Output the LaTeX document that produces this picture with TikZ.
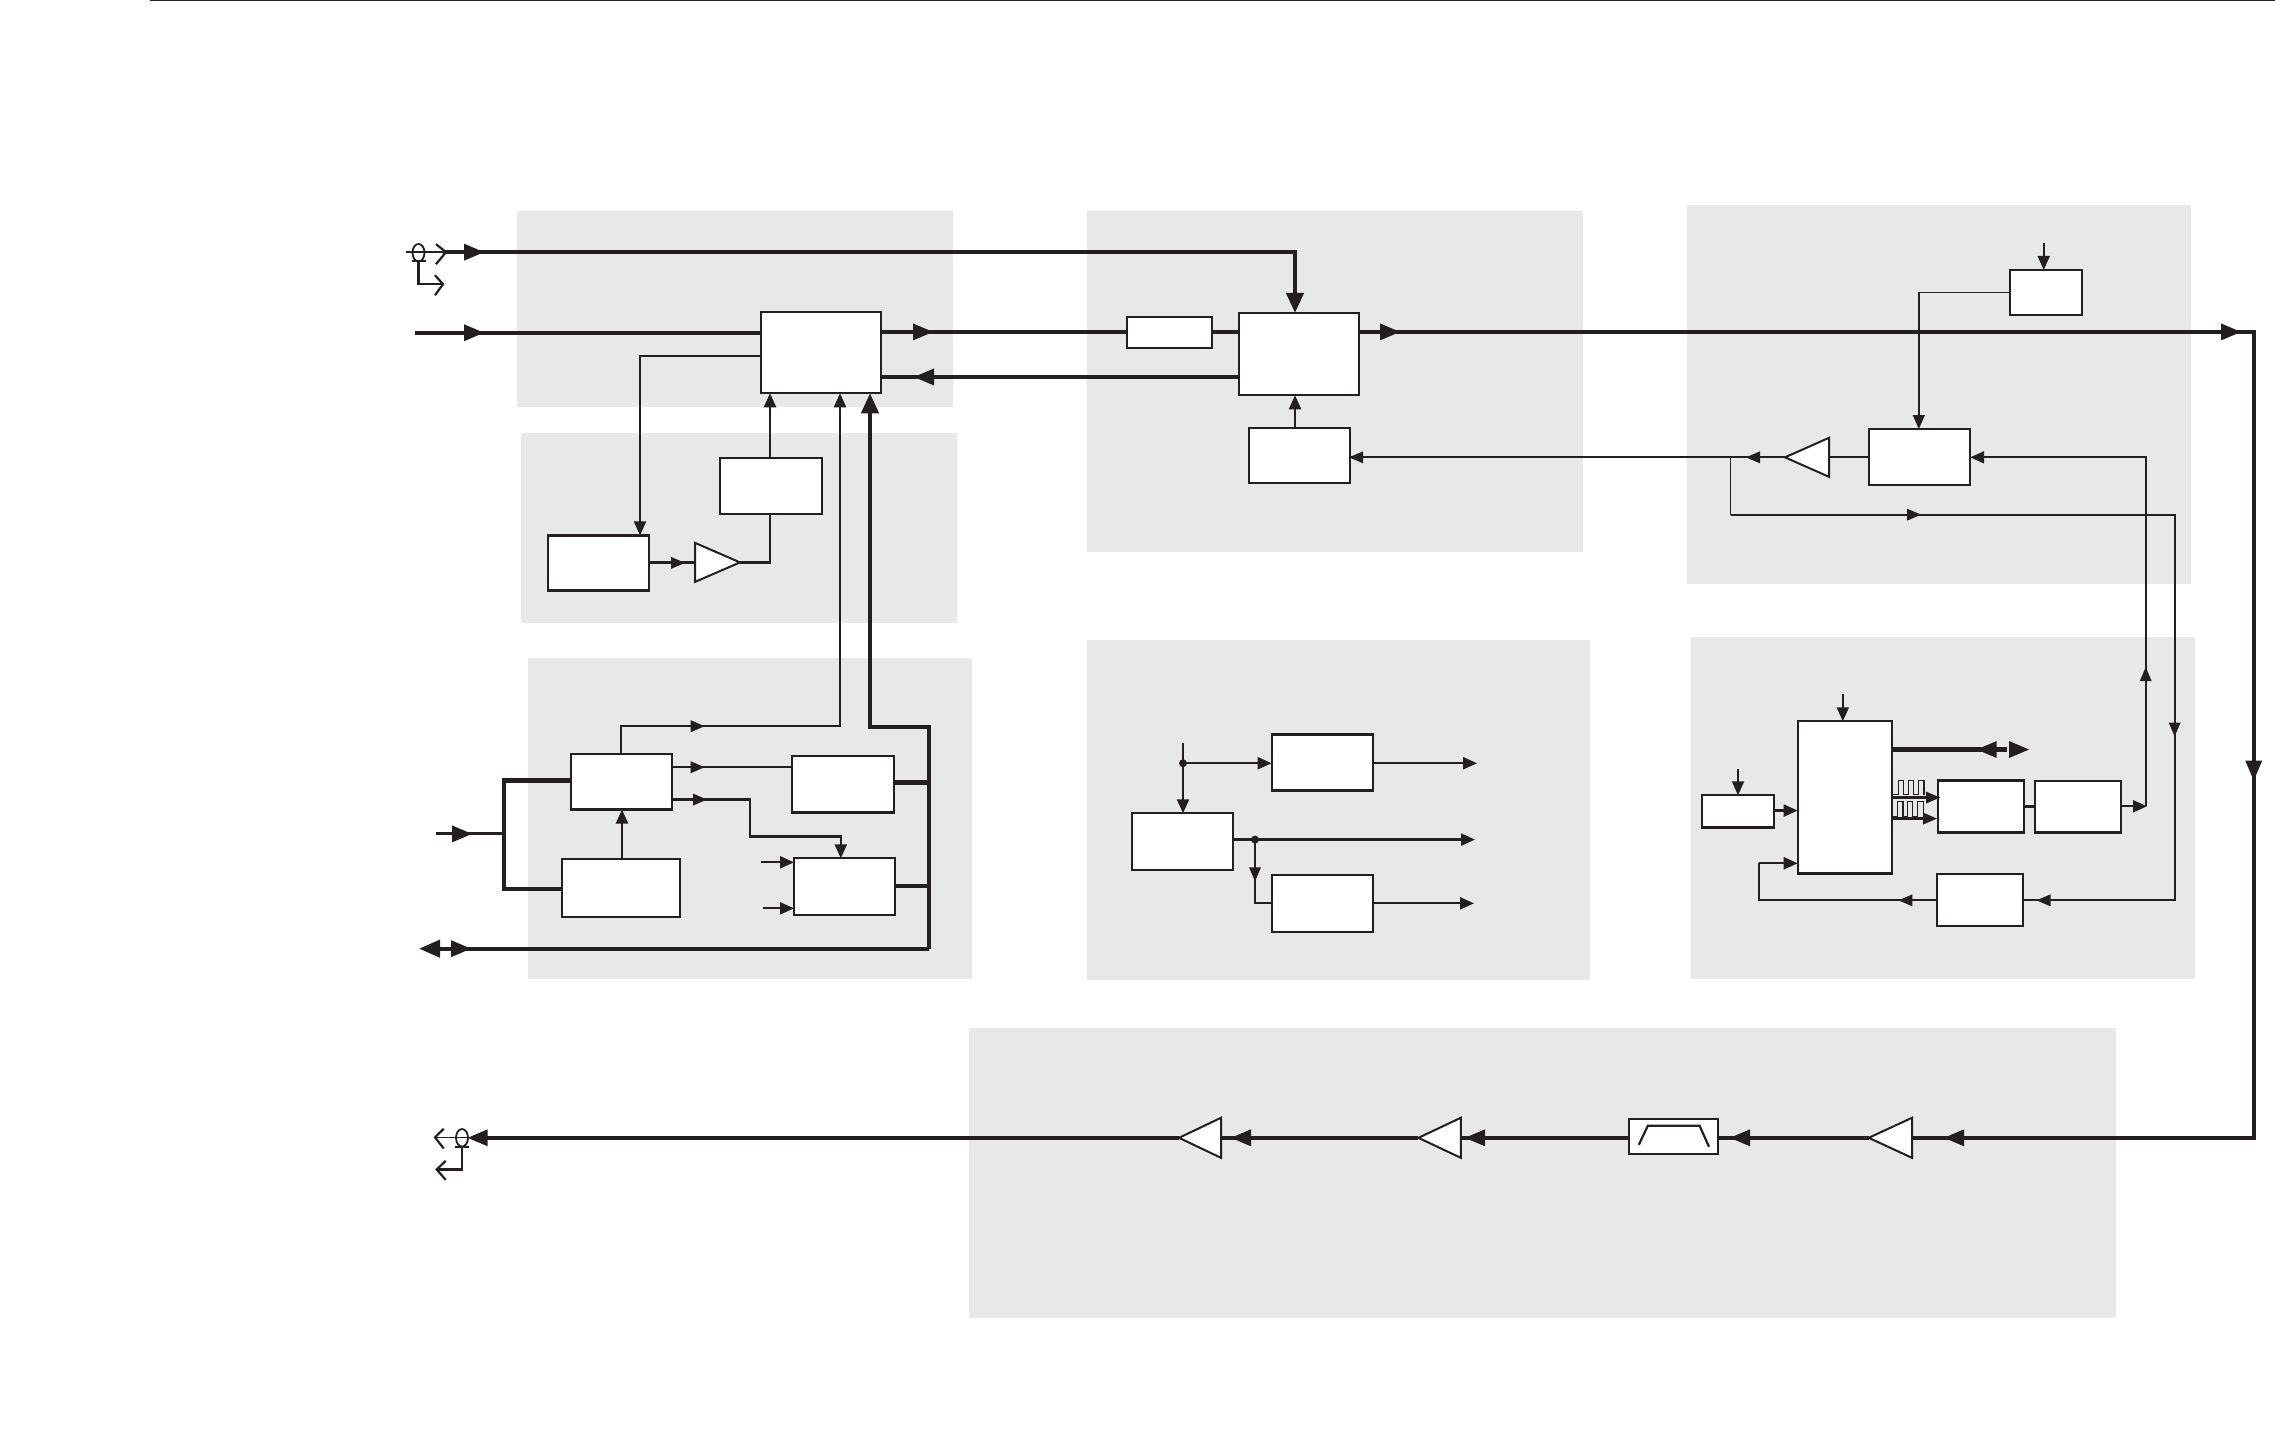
\documentclass[tikz,border=0pt]{standalone}
\usetikzlibrary{arrows.meta,shapes.geometric}
\definecolor{ink}{HTML}{231F20}
\definecolor{panelgray}{HTML}{E8E8E8}
\tikzset{
  panel/.style={fill=panelgray,draw=none},
  blk/.style={draw=ink,fill=white,line width=2.2pt,rectangle,inner sep=0pt,outer sep=0pt},
  ampst/.style={draw=ink,fill=white,line width=2pt,line join=miter},
  thk/.style={draw=ink,line width=4.2pt},
  midl/.style={draw=ink,line width=3pt},
  med/.style={draw=ink,line width=2.2pt},
  fine/.style={draw=ink,line width=1.4pt},
  pulse/.style={draw=ink,line width=1.2pt},
  ba/.style={-{Triangle[length=20pt,width=17pt,fill=ink]}},
  sa/.style={-{Triangle[length=14pt,width=12pt,fill=ink]}},
  tap/.style={ellipse,draw=ink,line width=1.8pt,inner sep=0pt,outer sep=0pt,minimum width=12pt,minimum height=17.5pt},
}
\newcommand{\bx}[5]{%
  \pgfmathsetmacro\bxw{#4-#2-0.8}\pgfmathsetmacro\bxh{#5-#3}%
  \pgfmathsetmacro\bxcx{(#2+#4-0.8)/2}\pgfmathsetmacro\bxcy{(#3+#5)/2}%
  \node[blk,minimum width=\bxw pt,minimum height=\bxh pt] (#1) at (\bxcx,\bxcy) {};}
\newcommand{\ampl}[5]{%
  \coordinate (#1-tip) at (#2,#4);\coordinate (#1-base) at (#3,#4);
  \draw[ampst] (#1-tip) -- (#3,#4-#5) -- (#3,#4+#5) -- cycle;}
\newcommand{\bighead}[3]{\fill[ink,shift={(#1,#2)},rotate=#3] (0,0) -- (-20,8.5) -- (-20,-8.5) -- cycle;}
\newcommand{\smallhead}[3]{\fill[ink,shift={(#1,#2)},rotate=#3] (0,0) -- (-14,6) -- (-14,-6) -- cycle;}
\begin{document}
\begin{tikzpicture}[x=1pt,y=-1.0007pt]
\useasboundingbox (0,0) rectangle (2275,1429);
% panels
\fill[panel] (517,211) rectangle (953,407);
\fill[panel] (521,433) rectangle (957,622.5);
\fill[panel] (528,658) rectangle (972,978);
\fill[panel] (1087,211) rectangle (1583,552);
\fill[panel] (1087,640) rectangle (1590,979);
\fill[panel] (1687,205) rectangle (2191,584);
\fill[panel] (1691,637) rectangle (2195,978);
\fill[panel] (969,1027) rectangle (2116,1317);
% top rule
\coordinate (ruleL) at (150,0.5);
\coordinate (ruleR) at (2275,0.5);
\draw[pulse] (ruleL) -- (ruleR);
% blocks
\bx{A}{761}{312}{882}{393}
\bx{B}{720}{458}{822.5}{514}
\bx{C}{548}{535}{650}{590}
\bx{D}{1239}{312.7}{1360}{395}
\bx{E}{1126.7}{316.7}{1213}{348}
\bx{J}{1249}{428}{1351}{483}
\bx{F}{570.6}{753.7}{673}{809}
\bx{G}{562}{858.7}{681}{916}
\bx{H}{792}{755.7}{894.4}{812}
\bx{I}{794}{857.7}{895.6}{914}
\bx{K}{2010}{269.7}{2082.4}{315}
\bx{L}{1868.7}{428.7}{1971}{485}
\bx{N}{1797.7}{720.7}{1892.6}{873}
\bx{O}{1701.6}{794.7}{1775}{827}
\bx{P}{1937.7}{780}{2025}{832}
\bx{Q}{2034.6}{780.7}{2121.8}{832}
\bx{M}{1936.6}{873}{2024}{925}
\bx{R}{1131.7}{812.7}{1234}{869}
\bx{S}{1271.7}{734}{1373.7}{790}
\bx{T}{1271.7}{874}{1373.7}{931}
\bx{Fil}{1628.8}{1118}{1719}{1153}
% amplifiers
\ampl{a1}{740}{695}{562}{19.5}
\ampl{a2}{1785}{1829}{457}{19.5}
\ampl{a3}{1868.7}{1912}{1137}{20}
\ampl{a4}{1418.4}{1460.8}{1137}{20}
\ampl{a5}{1179}{1221}{1137}{20}
% filter curve
\draw[med] (1638.8,1144) -- (1647.8,1125) -- (1699.6,1125) -- (1709,1146);
% taps
\node[tap] (tapin) at (418.5,252.5) {};
\node[tap] (tapout) at (462,1137) {};
% free ends
\coordinate (in0) at (406,252);
\coordinate (in1) at (443,252);
\coordinate (in2) at (415,332.5);
\coordinate (in3) at (436,833.3);
\coordinate (bus) at (419,948);
\coordinate (dot1) at (1183,762.7);
\coordinate (dot2) at (1255,839);
\coordinate (branch) at (1730.6,457);
\coordinate (jct) at (2145.7,457);
\coordinate (corner) at (2253.7,331.7);
% input tap
\draw[fine] (in0) -- (in1);
\draw[med] (412,261) -- (426,261);
\draw[med] (436,244) -- (446,252) -- (436,264);
\draw[med] (418.5,261) |- (443,284);
\draw[med] (435,275) -- (443,284) -- (435,295);
\draw[thk,ba] (in1) -| (1295,0 |- D.north);
\bighead{484}{252}{0}
% A inputs and outputs
\draw[thk] (in2) -- (A.west |- 0,332.5);
\bighead{484}{332.5}{0}
\draw[thk] (A.east |- 0,331.7) -- (E.west |- 0,331.7);
\bighead{933}{331.7}{0}
\draw[thk] (E.east |- 0,331.7) -- (D.west |- 0,331.7);
\draw[thk] (D.west |- 0,376.7) -- (A.east |- 0,376.7);
\bighead{914}{376.7}{180}
\draw[med,sa] (A.west |- 0,355.7) -| (640,0 |- C.north);
\draw[med,sa] (770,0 |- B.north) -- (770,0 |- A.south);
\draw[med] (a1-tip) -| (770,0 |- B.south);
\draw[med] (C.east |- a1-base) -- (a1-base);
\smallhead{685}{562.5}{0}
% D out
\draw[thk] (D.east |- corner) -- (corner) -- (2253.7,1137) -- (a3-base);
\bighead{1400}{331.7}{0}
\bighead{2241}{331.7}{0}
\bighead{2253.7}{780}{270}
\bighead{1944}{1137}{180}
\draw[thk] (a3-tip) -- (Fil.east |- a3-tip);
\bighead{1730}{1137}{180}
\draw[thk] (Fil.west |- a4-base) -- (a4-base);
\bighead{1465}{1137}{180}
\draw[thk] (a4-tip) -- (a5-base);
\bighead{1231}{1137}{180}
\draw[thk] (a5-tip) -- (487,1137);
\bighead{467.7}{1137}{180}
% output tap
\draw[fine] (467,1136.5) -- (435,1136.5);
\draw[med] (443.7,1128) -- (435,1136.5) -- (443.7,1147.7);
\draw[med] (455,1146) -- (469,1146);
\draw[med] (tapout.south) |- (436.7,1168.7);
\draw[med] (445.7,1160) -- (436.7,1168.7) -- (445.7,1179);
% bottom left group
\draw[med,sa] (F.north -| 621,0) |- (840,725.7) -- (840,0 |- A.south);
\smallhead{704.6}{725.7}{0}
\draw[thk,ba] (929,948) |- (870,726.7) -- (870,0 |- A.south);
\draw[thk,{Triangle[length=21pt,width=17pt,fill=ink]}-] (bus) -- (929,948);
\bighead{471}{948}{0}
\draw[midl] (in3) -- (504,833.3);
\bighead{472}{833.3}{0}
\draw[thk] (F.west |- 0,780) -| (504,0 |- 0,888.7) -- (G.west |- 0,888.7);
\draw[med,sa] (622,0 |- G.north) -- (622,0 |- F.south);
\draw[med] (F.east |- 0,766.7) -- (H.west |- 0,766.7);
\smallhead{704.6}{766.7}{0}
\draw[med,sa] (F.east |- 0,799) -| (749.7,836) -| (840.8,0 |- I.north);
\smallhead{707}{799}{0}
\draw[thk] (H.east |- 0,782) -- (929,782);
\draw[thk] (I.east |- 0,885) -- (929,885);
\draw[med,sa] (761,861.7) -- (I.west |- 0,861.7);
\draw[med,sa] (763,907.7) -- (I.west |- 0,907.7);
% clock block
\draw[med,sa] (1295,0 |- J.north) -- (1295,0 |- D.south);
\draw[med] (a2-tip) -- (J.east |- a2-tip);
\smallhead{1349}{457}{180}
\smallhead{1746}{457}{180}
\draw[med] (a2-base) -- (L.west |- a2-base);
\draw[fine] (branch) -- (1730.6,514.3);
\draw[med] (1730.6,514.3) -| (2174.6,899.7) -- (M.east |- 0,899.7);
\smallhead{1921}{514.3}{0}
\smallhead{2174.6}{736}{270}
\smallhead{2036.5}{899.7}{180}
\draw[fine,sa] (K.west) -| (1918.8,0 |- L.north);
\coordinate (kin) at (2043.7,243);
\draw[med,sa] (kin) -- (2043.7,0 |- K.north);
\draw[med,sa] (2145.7,805.7) -- (jct) -- (L.east |- jct);
\smallhead{2145.7}{666.7}{90}
% DSP block
\coordinate (nin) at (1842.8,694);
\draw[med,sa] (nin) -- (1842.8,0 |- N.north);
\coordinate (oin) at (1738,768);
\draw[med,sa] (oin) -- (1738,0 |- O.north);
\draw[med,sa] (O.east |- 0,810) -- (N.west |- 0,810);
\draw[thk] (N.east |- 0,749) -- (2007,749);
\bighead{1976.7}{749}{180}
\bighead{2029}{749}{0}
\draw[midl] (N.east |- 0,797) -- (1930,797);
\smallhead{1940}{797}{0}
\draw[midl] (N.east |- 0,818) -- (1928,818);
\smallhead{1937}{818}{0}
\draw[pulse] (N.east |- 0,794.3) -- (1898.4,794.3) -- (1898.4,780) -- (1903.8,780) -- (1903.8,794.3) -- (1908.4,794.3) -- (1908.4,780) -- (1913.4,780) -- (1913.4,794.3) -- (1918.5,794.3) -- (1918.5,780) -- (1923.9,780) -- (1923.9,794.3);
\draw[pulse] (N.east |- 0,815.7) -- (1897.6,815.7) -- (1897.6,801.3) -- (1903,801.3) -- (1903,815.7) -- (1907.6,815.7) -- (1907.6,801.3) -- (1912.6,801.3) -- (1912.6,815.7) -- (1917.7,815.7) -- (1917.7,801.3) -- (1923.1,801.3) -- (1923.1,815.7);
\draw[midl] (P.east |- 0,805.7) -- (Q.west |- 0,805.7);
\draw[med,sa] (Q.east |- 0,805.7) -- (2147,805.7);
\draw[med] (M.west |- 0,899.7) -| (1759,862.7);
\draw[med,sa] (1759,862.7) -- (N.west |- 0,862.7);
\smallhead{1898.4}{899.7}{180}
% clock distribution
\coordinate (sin) at (1183,742);
\draw[med,sa] (sin) -- (1183,0 |- R.north);
\fill[ink] (dot1) circle [radius=4];
\draw[med,sa] (dot1) -- (S.west |- dot1);
\coordinate (sout) at (1477,762.7);
\draw[med,sa] (S.east |- sout) -- (sout);
\coordinate (rout) at (1475,839);
\draw[med,sa] (R.east |- rout) -- (rout);
\fill[ink] (dot2) circle [radius=4];
\draw[med] (dot2) |- (T.west |- 0,902.7);
\smallhead{1255}{880.7}{270}
\coordinate (tout) at (1474,902.7);
\draw[med,sa] (T.east |- tout) -- (tout);
\end{tikzpicture}
\end{document}
